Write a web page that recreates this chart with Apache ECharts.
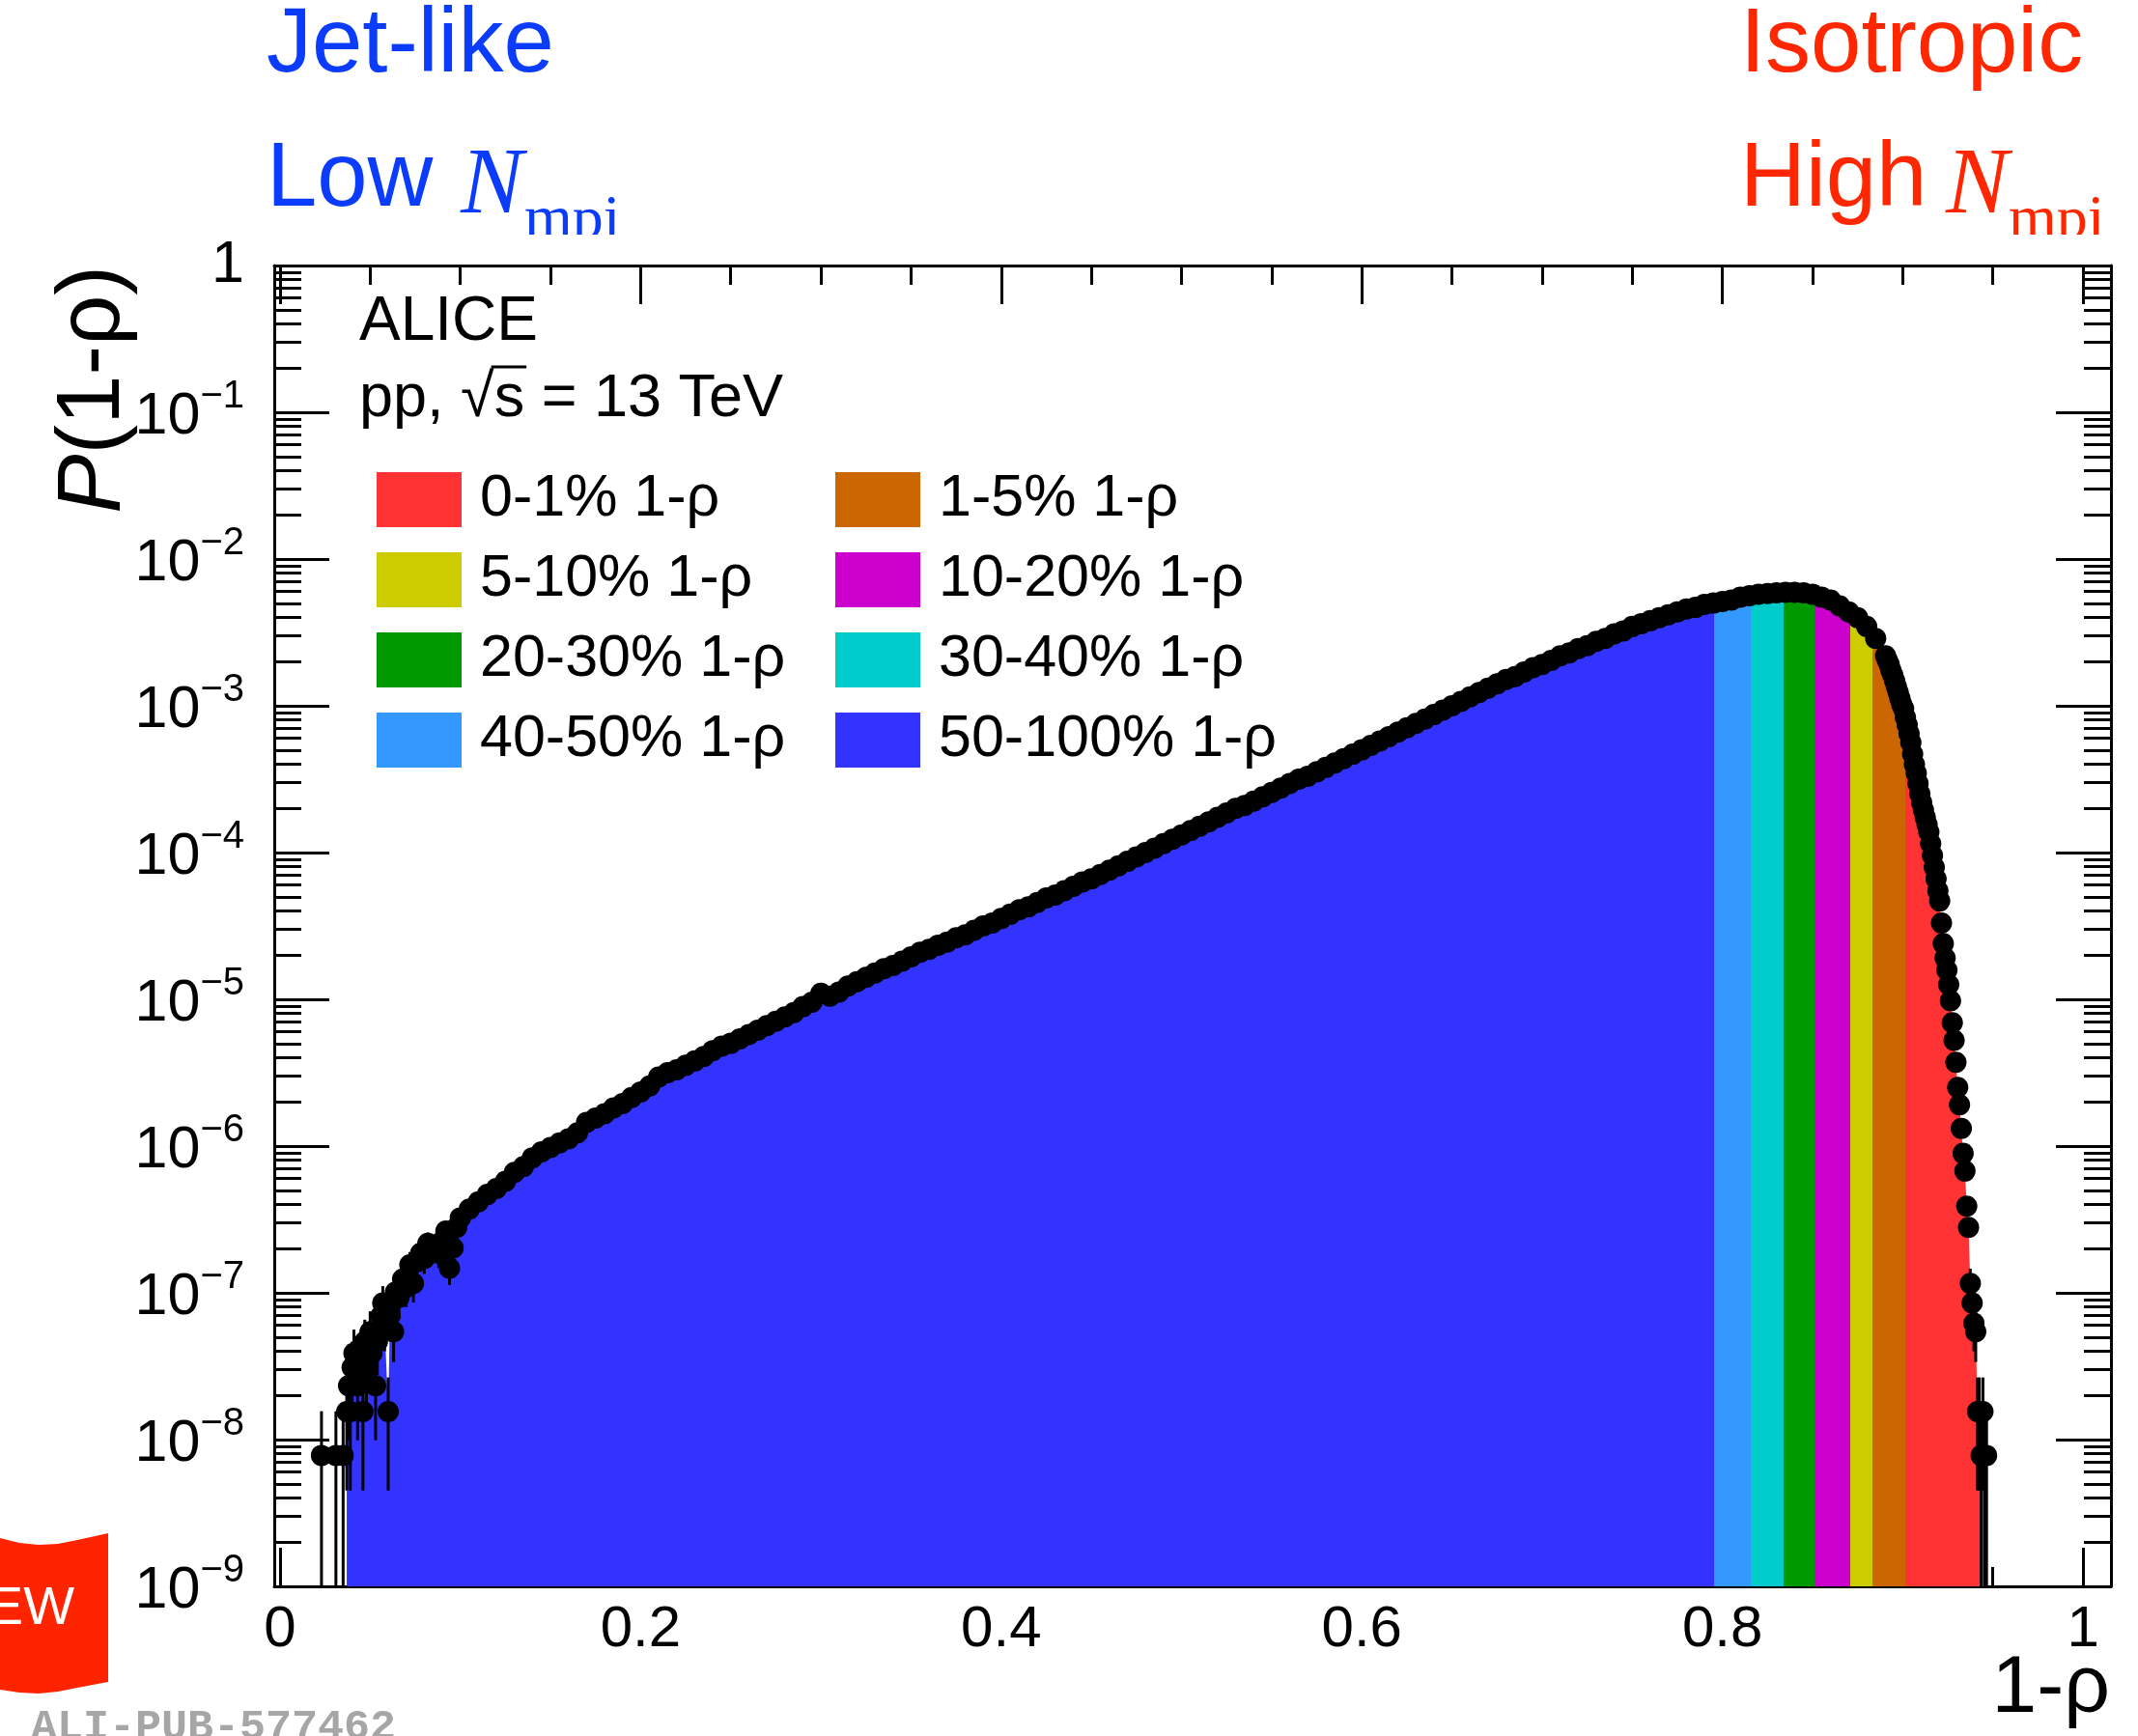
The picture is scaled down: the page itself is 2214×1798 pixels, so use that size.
<!DOCTYPE html>
<html>
<head>
<meta charset="utf-8">
<title>P(1-ρ) in pp collisions at 13 TeV</title>
<script src="https://cdn.jsdelivr.net/npm/echarts@6/dist/echarts.min.js"></script>
<style>
  html, body { margin: 0; padding: 0; background: #ffffff; }
  #chart { width: 2214px; height: 1798px; }
</style>
</head>
<body>
<div id="chart"></div>
<script>
// ---------------------------------------------------------------------------
// Data: P(1-rho), normalised per event
// ---------------------------------------------------------------------------

// Low-statistics bins (edges of the distribution), with statistical errors
const lowRho = [
  0.023, 0.031, 0.035, 0.037, 0.038, 0.039, 0.040, 0.041, 0.043, 0.045,
  0.046, 0.047, 0.048, 0.050, 0.051, 0.053, 0.054, 0.056, 0.057, 0.058,
  0.060, 0.061, 0.063, 0.064, 0.066, 0.068, 0.070, 0.072, 0.074, 0.076,
  0.078, 0.080, 0.082, 0.084, 0.086, 0.088, 0.090, 0.092, 0.094, 0.096,
  0.098,
  0.9375, 0.9385, 0.9395, 0.9405, 0.9415, 0.9425, 0.9435, 0.9445, 0.9455, 0.9465
];
const lowProb = [
  7.8e-9, 7.8e-9, 7.8e-9, 1.55e-8, 2.33e-8, 1.55e-8, 3.1e-8, 3.88e-8, 2.33e-8, 3.88e-8,
  1.55e-8, 4.66e-8, 3.1e-8, 5.43e-8, 3.88e-8, 2.33e-8, 4.66e-8, 6.98e-8, 8.54e-8, 6.2e-8,
  1.55e-8, 6.98e-8, 5.43e-8, 1.01e-7, 9.3e-8, 1.24e-7, 1.09e-7, 1.55e-7, 1.16e-7, 1.63e-7,
  1.86e-7, 1.71e-7, 2.17e-7, 1.94e-7, 2.1e-7, 1.86e-7, 2.25e-7, 2.64e-7, 1.47e-7, 2.02e-7,
  2.79e-7,
  1.16e-7, 8.54e-8, 6.2e-8, 5.43e-8, 1.55e-8, 1.55e-8, 7.8e-9, 1.55e-8, 7.8e-9, 7.8e-9
];
const lowErr = [
  7.8e-9, 7.8e-9, 7.8e-9, 1.1e-8, 1.34e-8, 1.1e-8, 1.55e-8, 1.74e-8, 1.34e-8, 1.74e-8,
  1.1e-8, 1.9e-8, 1.55e-8, 2.05e-8, 1.74e-8, 1.34e-8, 1.9e-8, 2.33e-8, 2.57e-8, 2.2e-8,
  1.1e-8, 2.33e-8, 2.05e-8, 2.8e-8, 2.69e-8, 3.1e-8, 2.9e-8, 3.47e-8, 3.0e-8, 3.56e-8,
  3.8e-8, 3.64e-8, 4.1e-8, 3.88e-8, 4.03e-8, 3.8e-8, 4.18e-8, 4.52e-8, 3.38e-8, 3.96e-8,
  4.66e-8,
  3.0e-8, 2.57e-8, 2.2e-8, 2.05e-8, 1.1e-8, 1.1e-8, 7.8e-9, 1.1e-8, 7.8e-9, 7.8e-9
];

// Bulk of the distribution
const bulkRho = [
  0.100, 0.105, 0.110, 0.115, 0.120, 0.125, 0.130, 0.135, 0.140, 0.145,
  0.150, 0.155, 0.160, 0.165, 0.170, 0.175, 0.180, 0.185, 0.190, 0.195,
  0.200, 0.205, 0.210, 0.215, 0.220, 0.225, 0.230, 0.235, 0.240, 0.245,
  0.250, 0.255, 0.260, 0.265, 0.270, 0.275, 0.280, 0.285, 0.290, 0.295,
  0.300, 0.305, 0.310, 0.315, 0.320, 0.325, 0.330, 0.335, 0.340, 0.345,
  0.350, 0.355, 0.360, 0.365, 0.370, 0.375, 0.380, 0.385, 0.390, 0.395,
  0.400, 0.405, 0.410, 0.415, 0.420, 0.425, 0.430, 0.435, 0.440, 0.445,
  0.450, 0.455, 0.460, 0.465, 0.470, 0.475, 0.480, 0.485, 0.490, 0.495,
  0.500, 0.505, 0.510, 0.515, 0.520, 0.525, 0.530, 0.535, 0.540, 0.545,
  0.550, 0.555, 0.560, 0.565, 0.570, 0.575, 0.580, 0.585, 0.590, 0.595,
  0.600, 0.605, 0.610, 0.615, 0.620, 0.625, 0.630, 0.635, 0.640, 0.645,
  0.650, 0.655, 0.660, 0.665, 0.670, 0.675, 0.680, 0.685, 0.690, 0.695,
  0.700, 0.705, 0.710, 0.715, 0.720, 0.725, 0.730, 0.735, 0.740, 0.745,
  0.750, 0.755, 0.760, 0.765, 0.770, 0.775, 0.780, 0.785, 0.790, 0.795,
  0.800, 0.805, 0.810, 0.815, 0.820, 0.825, 0.830, 0.835, 0.840, 0.845,
  0.850, 0.855, 0.860, 0.865, 0.870, 0.875, 0.880, 0.885
];
const bulkProb = [
  3.24e-7, 3.72e-7, 4.17e-7, 4.68e-7, 5.13e-7, 5.75e-7, 6.61e-7, 7.24e-7, 8.32e-7, 9.12e-7,
  9.77e-7, 1.05e-6, 1.12e-6, 1.23e-6, 1.45e-6, 1.55e-6, 1.66e-6, 1.82e-6, 1.95e-6, 2.14e-6,
  2.34e-6, 2.57e-6, 2.95e-6, 3.16e-6, 3.31e-6, 3.55e-6, 3.80e-6, 4.07e-6, 4.47e-6, 4.79e-6,
  5.01e-6, 5.37e-6, 5.75e-6, 6.17e-6, 6.61e-6, 7.08e-6, 7.59e-6, 8.13e-6, 8.91e-6, 9.55e-6,
  1.10e-5, 1.05e-5, 1.12e-5, 1.23e-5, 1.32e-5, 1.41e-5, 1.51e-5, 1.62e-5, 1.70e-5, 1.82e-5,
  1.95e-5, 2.09e-5, 2.19e-5, 2.34e-5, 2.45e-5, 2.63e-5, 2.75e-5, 2.95e-5, 3.16e-5, 3.31e-5,
  3.55e-5, 3.80e-5, 4.07e-5, 4.27e-5, 4.57e-5, 4.90e-5, 5.13e-5, 5.50e-5, 5.89e-5, 6.31e-5,
  6.61e-5, 7.08e-5, 7.59e-5, 8.13e-5, 8.71e-5, 9.33e-5, 1.00e-4, 1.07e-4, 1.15e-4, 1.23e-4,
  1.32e-4, 1.41e-4, 1.51e-4, 1.62e-4, 1.74e-4, 1.86e-4, 2.00e-4, 2.09e-4, 2.24e-4, 2.40e-4,
  2.57e-4, 2.75e-4, 2.95e-4, 3.16e-4, 3.31e-4, 3.55e-4, 3.80e-4, 4.07e-4, 4.37e-4, 4.68e-4,
  5.01e-4, 5.37e-4, 5.75e-4, 6.17e-4, 6.61e-4, 7.08e-4, 7.59e-4, 8.13e-4, 8.71e-4, 9.33e-4,
  1.00e-3, 1.07e-3, 1.15e-3, 1.23e-3, 1.32e-3, 1.41e-3, 1.51e-3, 1.58e-3, 1.70e-3, 1.82e-3,
  1.91e-3, 2.04e-3, 2.19e-3, 2.29e-3, 2.45e-3, 2.57e-3, 2.75e-3, 2.88e-3, 3.09e-3, 3.24e-3,
  3.47e-3, 3.63e-3, 3.80e-3, 3.98e-3, 4.17e-3, 4.37e-3, 4.57e-3, 4.68e-3, 4.90e-3, 5.01e-3,
  5.13e-3, 5.25e-3, 5.50e-3, 5.62e-3, 5.75e-3, 5.82e-3, 5.89e-3, 5.94e-3, 5.94e-3, 5.89e-3,
  5.75e-3, 5.50e-3, 5.25e-3, 4.79e-3, 4.37e-3, 3.98e-3, 3.47e-3, 2.88e-3
];

// Falling edge, finer bins
const edgeRho = [
  0.8905, 0.8915, 0.8925, 0.8935, 0.8945, 0.8955, 0.8965, 0.8975, 0.8985, 0.8995,
  0.9005, 0.9015, 0.9025, 0.9035, 0.9045, 0.9055, 0.9065, 0.9075, 0.9085, 0.9095,
  0.9105, 0.9115, 0.9125, 0.9135, 0.9145, 0.9155, 0.9165, 0.9175, 0.9185, 0.9195,
  0.9205, 0.9215, 0.9225, 0.9235, 0.9245, 0.9255, 0.9265, 0.9275, 0.9285, 0.9295,
  0.9305, 0.9315, 0.9325, 0.9335, 0.9345, 0.9355, 0.9365
];
const edgeProb = [
  2.19e-3, 2.04e-3, 1.91e-3, 1.74e-3, 1.62e-3, 1.48e-3, 1.35e-3, 1.23e-3, 1.12e-3, 1.02e-3,
  9.55e-4, 8.32e-4, 7.41e-4, 6.46e-4, 5.62e-4, 4.68e-4, 3.98e-4, 3.47e-4, 2.95e-4, 2.51e-4,
  2.19e-4, 1.95e-4, 1.74e-4, 1.55e-4, 1.38e-4, 1.15e-4, 9.55e-5, 7.94e-5, 6.61e-5, 5.50e-5,
  4.68e-5, 3.31e-5, 2.40e-5, 1.91e-5, 1.58e-5, 1.26e-5, 9.77e-6, 6.92e-6, 5.25e-6, 3.72e-6,
  2.51e-6, 1.91e-6, 1.32e-6, 8.91e-7, 6.76e-7, 3.89e-7, 2.79e-7
];

// Event classes in 1-rho (percentile of the distribution), highest 1-rho first
const classLabels = ['0-1%', '1-5%', '5-10%', '10-20%', '20-30%', '30-40%', '40-50%', '50-100%'];
const classColors = ['#ff3333', '#cc6600', '#cccc00', '#cc00cc', '#009900', '#00cccc', '#3399ff', '#3333ff'];
// lower 1-rho edge of each class (the last class extends to the low end)
const classLowerEdges = [0.9013, 0.8832, 0.8708, 0.8513, 0.8341, 0.8159, 0.7954];

// filled histogram starts here
const fillStart = 0.036;

// Axis ticks
const xMajorTicks = [0, 0.2, 0.4, 0.6, 0.8, 1];
const xMinorTicks = [0.05, 0.1, 0.15, 0.25, 0.3, 0.35, 0.45, 0.5, 0.55, 0.65, 0.7, 0.75, 0.85, 0.9, 0.95];
const yDecades = [-9, -8, -7, -6, -5, -4, -3, -2, -1];
const yMinorMultipliers = [2, 3, 4, 5, 6, 7, 8, 9];

// ---------------------------------------------------------------------------
const X_MIN = -0.0032, X_MAX = 1.0155;
const Y_MIN = 1e-9, Y_MAX = 1;
const FONT = '"Liberation Sans", Arial, Helvetica, sans-serif';
const SERIF = '"Liberation Serif", "Times New Roman", serif';
const BLUE_TXT = '#0b3cfb';
const RED_TXT = '#ff2600';

const allPoints = [];
lowRho.forEach((x, i) => allPoints.push([x, lowProb[i]]));
bulkRho.forEach((x, i) => allPoints.push([x, bulkProb[i]]));
edgeRho.forEach((x, i) => allPoints.push([x, edgeProb[i]]));
allPoints.sort((a, b) => a[0] - b[0]);

const fillPoints = allPoints.filter(p => p[0] >= fillStart);
const errPoints = lowRho.map((x, i) => [x, lowProb[i], lowErr[i]]);

// colour pieces along 1-rho
const pieces = classColors.map((c, i) => ({
  min: i === classColors.length - 1 ? -0.1 : classLowerEdges[i],
  max: i === 0 ? 1.1 : classLowerEdges[i - 1],
  color: c
}));

const yMinorLog = [];
yDecades.forEach(d => yMinorMultipliers.forEach(m => yMinorLog.push(d + Math.log10(m))));

const legendNames = classLabels.map(l => l + ' 1-ρ');

function textWidth(str, font) {
  const ctx = document.createElement('canvas').getContext('2d');
  ctx.font = font;
  return ctx.measureText(str).width;
}

const chart = echarts.init(document.getElementById('chart'), null, { renderer: 'canvas' });

const tickLine = { color: '#000', width: 3 };

function xAxisDef(position, ticks, len, showLine, showLabel) {
  return {
    type: 'value', position: position, min: X_MIN, max: X_MAX,
    axisLine: { show: showLine, onZero: false, lineStyle: tickLine },
    axisTick: { show: true, inside: true, length: len, customValues: ticks, lineStyle: tickLine },
    axisLabel: showLabel ? {
      show: true, customValues: ticks, margin: 15, fontSize: 60, color: '#000', fontFamily: FONT,
      formatter: v => String(v)
    } : { show: false },
    splitLine: { show: false }
  };
}

function yAxisDef(position, major, showLine, showLabel) {
  const def = {
    type: 'value', position: position, min: -9, max: 0,
    axisLine: { show: showLine, onZero: false, lineStyle: tickLine },
    splitLine: { show: false },
    axisLabel: { show: false }
  };
  if (major) {
    def.interval = 1;
    def.axisTick = { show: true, inside: true, length: 57, lineStyle: tickLine };
  } else {
    def.axisTick = { show: true, inside: true, length: 28, customValues: yMinorLog, lineStyle: tickLine };
  }
  if (showLabel) {
    def.axisLabel = {
      show: true, margin: 31, color: '#000', fontSize: 61, fontFamily: FONT,
      formatter: v => v === 0 ? '1' : '{b|10}{s|−' + (-v) + '}',
      rich: {
        b: { fontSize: 61, fontFamily: FONT, color: '#000', padding: [11, 0, 0, 0] },
        s: { fontSize: 40, fontFamily: FONT, color: '#000', verticalAlign: 'top' }
      }
    };
  }
  return def;
}

// "pp, √s = 13 TeV" with the bar over s
const ppX = 372, ppY = 413.5;
const ppSize = 63;
const ppFont = ppSize + 'px ' + FONT;
const sqrtStart = ppX + textWidth('pp, √', ppFont);
const sqrtEnd = ppX + textWidth('pp, √s', ppFont);

const option = {
  animation: false,
  backgroundColor: '#ffffff',
  textStyle: { fontFamily: FONT },
  grid: { left: 284, top: 275, width: 1902, height: 1368, containLabel: false },
  xAxis: [
    xAxisDef('bottom', xMajorTicks, 40, true, true),
    xAxisDef('bottom', xMinorTicks, 20, false, false),
    xAxisDef('top', xMajorTicks, 40, true, false),
    xAxisDef('top', xMinorTicks, 20, false, false)
  ],
  yAxis: [
    { type: 'log', logBase: 10, min: Y_MIN, max: Y_MAX, show: false, axisLine: { onZero: false } },
    yAxisDef('left', true, true, true),
    yAxisDef('left', false, false, false),
    yAxisDef('right', true, true, false),
    yAxisDef('right', false, false, false)
  ],
  visualMap: {
    type: 'piecewise', show: false, dimension: 0, seriesIndex: 0, pieces: pieces
  },
  legend: [
    {
      orient: 'vertical', left: 390, top: 487, padding: 0,
      itemWidth: 88, itemHeight: 57, itemGap: 22, icon: 'rect', selectedMode: false,
      data: [legendNames[0], legendNames[2], legendNames[4], legendNames[6]],
      textStyle: { fontSize: 61, fontFamily: FONT, color: '#000', lineHeight: 57, padding: [0, 0, 0, 14] }
    },
    {
      orient: 'vertical', left: 865, top: 487, padding: 0,
      itemWidth: 88, itemHeight: 57, itemGap: 22, icon: 'rect', selectedMode: false,
      data: [legendNames[1], legendNames[3], legendNames[5], legendNames[7]],
      textStyle: { fontSize: 61, fontFamily: FONT, color: '#000', lineHeight: 57, padding: [0, 0, 0, 14] }
    }
  ],
  series: [
    {
      name: 'fill', type: 'line', xAxisIndex: 0, yAxisIndex: 0,
      data: fillPoints, showSymbol: false, symbol: 'none', silent: true, z: 2,
      lineStyle: { width: 0 },
      areaStyle: { opacity: 1, origin: 'start' }
    },
    {
      name: 'stat. errors', type: 'custom', xAxisIndex: 0, yAxisIndex: 0, z: 3, silent: true,
      data: errPoints,
      encode: { x: 0, y: 1 },
      renderItem: function (params, api) {
        const x = api.value(0), v = api.value(1), e = api.value(2);
        const lo = Math.max(v - e, Y_MIN), hi = v + e;
        const p1 = api.coord([x, lo]), p2 = api.coord([x, hi]);
        return { type: 'line', shape: { x1: p1[0], y1: p1[1], x2: p2[0], y2: p2[1] },
                 style: { stroke: '#000', lineWidth: 3 } };
      }
    },
    {
      name: 'data', type: 'scatter', xAxisIndex: 0, yAxisIndex: 0, z: 4, silent: true,
      data: allPoints, symbol: 'circle', symbolSize: 22,
      itemStyle: { color: '#000', opacity: 1 }
    }
  ].concat(legendNames.map((n, i) => ({
    name: n, type: 'line', data: [], xAxisIndex: 0, yAxisIndex: 0,
    itemStyle: { color: classColors[i] }, lineStyle: { color: classColors[i] }
  }))),
  graphic: [
    // y-axis title
    { type: 'text', x: 98, y: 275, rotation: Math.PI / 2, z: 10,
      style: { text: '{i|P}(1-ρ)', fontSize: 92, fontFamily: FONT, fill: '#000',
               align: 'right', textAlign: 'right', verticalAlign: 'middle', textVerticalAlign: 'middle',
               rich: { i: { fontStyle: 'italic', fontSize: 92, fontFamily: FONT, fill: '#000' } } } },
    // x-axis title
    { type: 'text', x: 2185, y: 1750, z: 10,
      style: { text: '1-ρ', fontSize: 84, fontFamily: FONT, fill: '#000',
               align: 'right', textAlign: 'right', verticalAlign: 'middle', textVerticalAlign: 'middle' } },
    // labels inside the frame
    { type: 'text', x: 372, y: 334, z: 10,
      style: { text: 'ALICE', fontSize: 64, fontFamily: FONT, fill: '#000', verticalAlign: 'middle', textVerticalAlign: 'middle' } },
    { type: 'text', x: ppX, y: ppY, z: 10,
      style: { text: 'pp, √s = 13 TeV', fontSize: ppSize, fontFamily: FONT, fill: '#000', verticalAlign: 'middle', textVerticalAlign: 'middle' } },
    { type: 'line', z: 10, shape: { x1: sqrtStart - 3, y1: 380, x2: sqrtEnd + 2, y2: 380 },
      style: { stroke: '#000', lineWidth: 3 } },
    // headline: jet-like / isotropic
    { type: 'text', x: 276, y: 48, z: 10,
      style: { text: 'Jet-like', fontSize: 94, fontFamily: FONT, fill: BLUE_TXT, verticalAlign: 'middle', textVerticalAlign: 'middle' } },
    { type: 'text', x: 276, y: 187.5, z: 10,
      style: { text: 'Low', fontSize: 94, fontFamily: FONT, fill: BLUE_TXT, verticalAlign: 'middle', textVerticalAlign: 'middle' } },
    { type: 'text', x: 477, y: 194.6, z: 10,
      style: { text: 'N', fontSize: 97, fontStyle: 'italic', fontFamily: SERIF, fill: BLUE_TXT, verticalAlign: 'middle', textVerticalAlign: 'middle' } },
    { type: 'text', x: 543, y: 229, z: 10,
      style: { text: 'mpi', fontSize: 64, fontFamily: SERIF, fill: BLUE_TXT, verticalAlign: 'middle', textVerticalAlign: 'middle' } },
    { type: 'text', x: 1802, y: 48, z: 10,
      style: { text: 'Isotropic', fontSize: 94, fontFamily: FONT, fill: RED_TXT, verticalAlign: 'middle', textVerticalAlign: 'middle' } },
    { type: 'text', x: 1802, y: 187.5, z: 10,
      style: { text: 'High', fontSize: 94, fontFamily: FONT, fill: RED_TXT, verticalAlign: 'middle', textVerticalAlign: 'middle' } },
    { type: 'text', x: 2015, y: 194.6, z: 10,
      style: { text: 'N', fontSize: 97, fontStyle: 'italic', fontFamily: SERIF, fill: RED_TXT, verticalAlign: 'middle', textVerticalAlign: 'middle' } },
    { type: 'text', x: 2080, y: 229, z: 10,
      style: { text: 'mpi', fontSize: 64, fontFamily: SERIF, fill: RED_TXT, verticalAlign: 'middle', textVerticalAlign: 'middle' } },
    // pad edge trims the subscripts
    { type: 'rect', z: 11, shape: { x: 470, y: 243, width: 240, height: 29 }, style: { fill: '#ffffff' } },
    { type: 'rect', z: 11, shape: { x: 2005, y: 243, width: 209, height: 29 }, style: { fill: '#ffffff' } },
    // "NEW" badge and figure id
    { type: 'polygon', z: 10,
      shape: { points: [[0, 1593], [20, 1598], [40, 1600], [60, 1599], [80, 1595], [112, 1588],
                        [112, 1742], [80, 1748], [60, 1752], [40, 1754], [20, 1753], [0, 1750]] },
      style: { fill: '#ff2400' } },
    { type: 'text', x: 77, y: 1667, z: 11,
      style: { text: 'NEW', fontSize: 56, fontFamily: FONT, fill: '#ffffff', align: 'right', textAlign: 'right',
               verticalAlign: 'middle', textVerticalAlign: 'middle' } },
    { type: 'text', x: 32, y: 1790, z: 10,
      style: { text: 'ALI-PUB-577462', fontSize: 45, fontWeight: 'bold', fontFamily: '"Liberation Mono", "DejaVu Sans Mono", monospace',
               fill: '#a6a6a6', verticalAlign: 'middle', textVerticalAlign: 'middle' } }
  ]
};

chart.setOption(option);
</script>
</body>
</html>
